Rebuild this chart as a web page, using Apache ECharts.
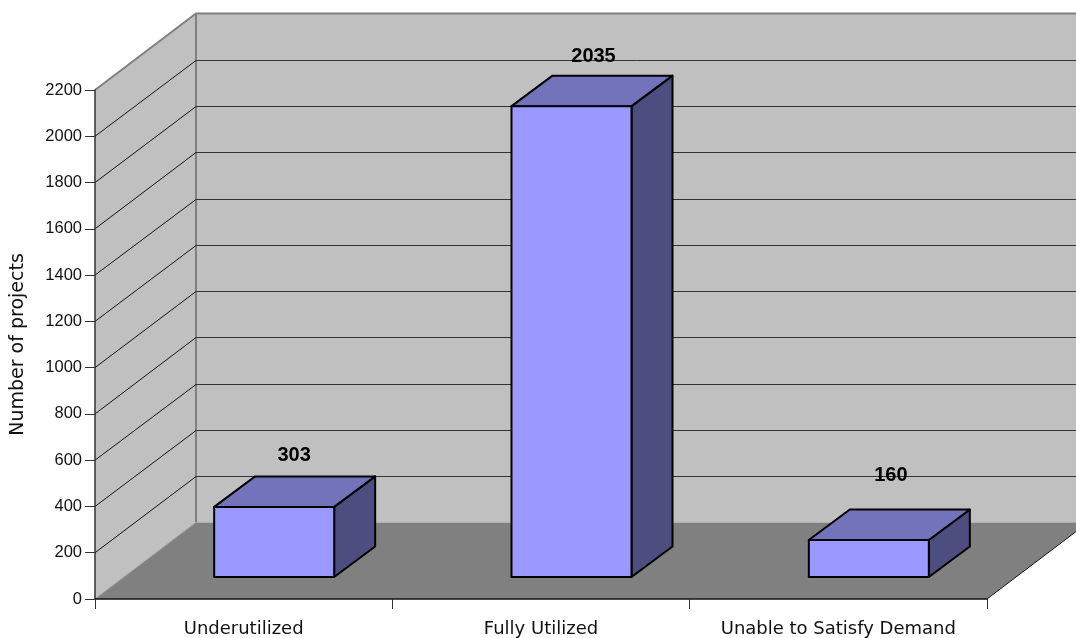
<!DOCTYPE html>
<html>
<head>
<meta charset="utf-8">
<style>html,body{margin:0;padding:0;background:#fff}#c{width:1076px;height:638px}</style>
<script src="https://cdn.jsdelivr.net/npm/echarts@6/dist/echarts.min.js"></script>
</head>
<body>
<div id="c"></div>
<script>
var categories = ['Underutilized', 'Fully Utilized', 'Unable to Satisfy Demand'];
var projects = [303, 2035, 160];
var gridTicks = [200, 400, 600, 800, 1000, 1200, 1400, 1600, 1800, 2000];
var labelLift = [51, 50, 64];
var labelShift = [20, 22, 22];

var DEPTH_X = 101, DEPTH_Y = -76.5;
var BAR_W = 120, BAR_OFF_X = 30, BAR_OFF_Y = -22, BAR_DX = 41, BAR_DY = -30.5;
var EDGE = '#808080', WALL = '#c0c0c0', FLOOR = '#808080';

function crisp(v) { return Math.round(v) + 0.5; }

function renderFrame(params, api) {
  var cs = params.coordSys;
  var L = cs.x, R = cs.x + cs.width, T = cs.y, B = cs.y + cs.height;
  var dx = DEPTH_X, dy = DEPTH_Y;
  return {
    type: 'group',
    children: [
      { type: 'rect', shape: { x: L + dx, y: T + dy, width: R - L, height: B - T },
        style: { fill: WALL, stroke: null } },
      { type: 'polygon', shape: { points: [[L, T], [L + dx, T + dy], [L + dx, B + dy], [L, B]] },
        style: { fill: WALL, stroke: null } },
      { type: 'polygon', shape: { points: [[L, B], [L + dx, B + dy], [R + dx, B + dy], [R, B]] },
        style: { fill: FLOOR, stroke: null } },
      { type: 'polyline', shape: { points: [[L, T], [L + dx, T + dy], [R + dx, T + dy]] },
        style: { fill: null, stroke: EDGE, lineWidth: 2 } },
      { type: 'line', shape: { x1: L + dx, y1: T + dy, x2: L + dx, y2: B + dy },
        style: { stroke: EDGE, lineWidth: 2 } },
      { type: 'line', shape: { x1: L, y1: B, x2: L + dx, y2: B + dy },
        style: { stroke: '#999', lineWidth: 1 } },
      { type: 'line', shape: { x1: R, y1: B, x2: R + dx, y2: B + dy },
        style: { stroke: '#111', lineWidth: 1 } }
    ]
  };
}

function renderGrid(params, api) {
  var cs = params.coordSys;
  var y = api.coord([0, api.value(0)])[1];
  var L = cs.x, R = cs.x + cs.width;
  var backY = crisp(y + DEPTH_Y);
  return {
    type: 'group',
    children: [
      { type: 'line', shape: { x1: L, y1: y, x2: L + DEPTH_X, y2: backY },
        style: { stroke: '#111', lineWidth: 1 } },
      { type: 'line', shape: { x1: L + DEPTH_X, y1: backY, x2: R + DEPTH_X, y2: backY },
        style: { stroke: '#333', lineWidth: 1 } }
    ]
  };
}

function renderBar(params, api) {
  var i = api.value(0), v = api.value(1);
  var top = api.coord([i, v]), base = api.coord([i, 0]);
  var x0 = top[0] + BAR_OFF_X - BAR_W / 2 + 0.5, x1 = x0 + BAR_W;
  var y0 = top[1] + BAR_OFF_Y, y1 = base[1] + BAR_OFF_Y;
  var dx = BAR_DX, dy = BAR_DY;
  var line = { stroke: '#000', lineWidth: 2, lineJoin: 'round' };
  return {
    type: 'group',
    children: [
      { type: 'polygon', shape: { points: [[x1, y0], [x1 + dx, y0 + dy], [x1 + dx, y1 + dy], [x1, y1]] },
        style: Object.assign({ fill: '#4d4d7f' }, line) },
      { type: 'polygon', shape: { points: [[x0, y0], [x0 + dx, y0 + dy], [x1 + dx, y0 + dy], [x1, y0]] },
        style: Object.assign({ fill: '#7373bb' }, line) },
      { type: 'rect', shape: { x: x0, y: y0, width: BAR_W, height: y1 - y0 },
        style: Object.assign({ fill: '#9999ff' }, line) },
      { type: 'text', style: {
          text: String(v), x: (x0 + x1) / 2 + labelShift[i], y: y0 - labelLift[i],
          align: 'center', verticalAlign: 'middle',
          font: 'bold 20px "Liberation Sans", Arial, sans-serif', fill: '#000'
        } }
    ]
  };
}

var chart = echarts.init(document.getElementById('c'), null, { renderer: 'canvas' });
chart.setOption({
  animation: false,
  backgroundColor: '#fff',
  grid: { left: 95, right: 89, top: 90, bottom: 39, containLabel: false, outerBoundsMode: 'none' },
  xAxis: {
    type: 'category',
    data: categories,
    boundaryGap: true,
    z: 6,
    axisLine: { show: true, lineStyle: { color: '#111', width: 1.5 } },
    axisTick: { show: true, length: 10, alignWithLabel: false, lineStyle: { color: '#333', width: 1 } },
    axisLabel: { show: true, interval: 0, margin: 21, color: '#111', fontSize: 18,
      fontFamily: '"DejaVu Sans", Tahoma, sans-serif' },
    splitLine: { show: false }
  },
  yAxis: {
    type: 'value',
    min: 0, max: 2200, interval: 200,
    z: 6,
    name: 'Number of projects',
    nameLocation: 'middle',
    nameGap: 67,
    nameRotate: 90,
    nameTextStyle: { color: '#111', fontSize: 19, fontFamily: '"DejaVu Sans", Tahoma, sans-serif' },
    axisLine: { show: true, lineStyle: { color: '#333', width: 1.5 } },
    axisTick: { show: true, length: 10, lineStyle: { color: '#333', width: 1 } },
    axisLabel: { show: true, margin: 13, color: '#111', fontSize: 16.5,
      fontFamily: '"Liberation Sans", Arial, sans-serif',
      formatter: function (v) { return String(v); } },
    splitLine: { show: false }
  },
  series: [
    { type: 'custom', z: 1, silent: true, clip: false, renderItem: renderFrame,
      data: [[0]], encode: { x: 0 } },
    { type: 'custom', z: 2, silent: true, clip: false, renderItem: renderGrid,
      data: gridTicks.map(function (t) { return [t]; }), encode: { y: 0 } },
    { type: 'custom', z: 3, silent: true, clip: false, renderItem: renderBar,
      data: projects.map(function (v, i) { return [i, v]; }), encode: { x: 0, y: 1 } }
  ]
});
</script>
</body>
</html>
